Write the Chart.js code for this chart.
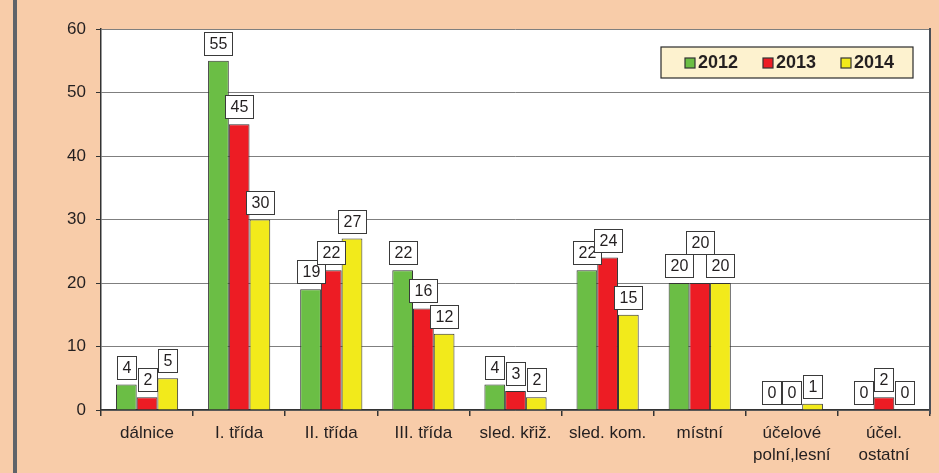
<!DOCTYPE html>
<html>
<head>
<meta charset="utf-8">
<script src="https://cdn.jsdelivr.net/npm/chart.js@4"></script>
<style>
html,body{margin:0;padding:0;background:#F8CCA9;}
#wrap{width:939px;height:473px;position:relative;}
</style>
</head>
<body>
<div id="wrap"><canvas id="c" width="939" height="473"></canvas></div>
<script>
const categories = ["dálnice", "I. třída", "II. třída", "III. třída", "sled. křiž.", "sled. kom.", "místní", ["účelové", "polní,lesní"], ["účel.", "ostatní"]];
const values2012 = [4, 55, 19, 22, 4, 22, 20, 0, 0];
const values2013 = [2, 45, 22, 16, 3, 24, 20, 0, 2];
const values2014 = [5, 30, 27, 12, 2, 15, 20, 1, 0];
const seriesLabels = ["2012", "2013", "2014"];
const yTicks = [0, 10, 20, 30, 40, 50, 60];

const colors = ["#6BBE45", "#ED1C24", "#F2EA1B"];
const FONT = "Liberation Sans, Arial, sans-serif";

const bgPlugin = {
  id: 'bg',
  beforeDraw(chart) {
    const ctx = chart.ctx, a = chart.chartArea;
    ctx.save();
    ctx.fillStyle = "#F8CCA9";
    ctx.fillRect(0, 0, chart.width, chart.height);
    ctx.fillStyle = "#5F6369";
    ctx.fillRect(13, 0, 4, chart.height);
    ctx.fillStyle = "#FFFFFF";
    ctx.fillRect(a.left, a.top, a.right - a.left, a.bottom - a.top);
    ctx.restore();
  },
  afterDraw(chart) {
    const ctx = chart.ctx, a = chart.chartArea;
    ctx.save();
    ctx.strokeStyle = "#4A4F57";
    ctx.lineWidth = 2;
    ctx.beginPath();
    ctx.moveTo(a.right, a.top - 1);
    ctx.lineTo(a.right, a.bottom + 4);
    ctx.stroke();
    // legend
    const lx = 661, ly = 47, lw = 252, lh = 31;
    ctx.fillStyle = "#FDF2CF";
    ctx.fillRect(lx, ly, lw, lh);
    ctx.strokeStyle = "#2a2a2a";
    ctx.lineWidth = 1.2;
    ctx.strokeRect(lx, ly, lw, lh);
    const sqX = [685, 763, 841];
    chart.data.datasets.forEach((ds, i) => {
      ctx.fillStyle = ds.backgroundColor;
      ctx.fillRect(sqX[i], 58, 10, 10);
      ctx.strokeStyle = "#333";
      ctx.lineWidth = 1.2;
      ctx.strokeRect(sqX[i], 58, 10, 10);
      ctx.fillStyle = "#231F20";
      ctx.font = "bold 18px " + FONT;
      ctx.textAlign = "left";
      ctx.textBaseline = "middle";
      ctx.fillText(ds.label, sqX[i] + 13, 63.5);
    });
    ctx.restore();
  },
  afterDatasetsDraw(chart) {
    const ctx = chart.ctx;
    ctx.save();
    ctx.font = "16px " + FONT;
    ctx.textAlign = "center";
    ctx.textBaseline = "middle";
    const placed = {};
    chart.data.datasets.forEach((ds, di) => {
      const meta = chart.getDatasetMeta(di);
      meta.data.forEach((bar, i) => {
        const txt = String(ds.data[i]);
        const w = Math.round(ctx.measureText(txt).width + 10);
        const h = 23;
        const x = Math.round(bar.x - w / 2);
        let y = Math.round(bar.y - 6 - h);
        placed[i] = placed[i] || [];
        placed[i].forEach(p => {
          const hx = Math.min(x + w, p.x + p.w) - Math.max(x, p.x);
          const vy = Math.min(y + h, p.y + p.h) - Math.max(y, p.y);
          if (hx > 0 && vy > h / 2) y = p.y - h;
        });
        placed[i].push({ x, y, w, h });
        ctx.fillStyle = "#FFFFFF";
        ctx.fillRect(x, y, w, h);
        ctx.strokeStyle = "#3a3a3a";
        ctx.lineWidth = 1;
        ctx.strokeRect(x + 0.5, y + 0.5, w, h);
        ctx.fillStyle = "#231F20";
        ctx.fillText(txt, x + w / 2 + 0.5, y + h / 2 + 1.5);
      });
    });
    ctx.restore();
  }
};

new Chart(document.getElementById('c'), {
  type: 'bar',
  data: {
    labels: categories,
    datasets: [values2012, values2013, values2014].map((d, i) => ({
      label: seriesLabels[i],
      data: d,
      backgroundColor: colors[i],
      borderColor: "#333333",
      borderWidth: 1,
      barPercentage: 1,
      categoryPercentage: 0.675
    }))
  },
  options: {
    responsive: false,
    animation: false,
    devicePixelRatio: 1,
    layout: { padding: { left: 0, right: 9, top: 29, bottom: 0 } },
    plugins: { legend: { display: false }, tooltip: { enabled: false } },
    scales: {
      x: {
        afterFit(s) { s.height = 63; },
        grid: { offset: true, drawOnChartArea: false, drawTicks: true, tickLength: 6, color: "#333", lineWidth: 1.5 },
        border: { display: true, color: "#333", width: 1.5 },
        ticks: { color: "#231F20", font: { family: FONT, size: 17, lineHeight: 1.25 }, padding: 7, maxRotation: 0, autoSkip: false }
      },
      y: {
        min: 0, max: 60,
        afterFit(s) { s.width = 101; },
        afterBuildTicks(s) { s.ticks = yTicks.map(v => ({ value: v })); },
        grid: { color: "#7F7F7F", lineWidth: 1, tickLength: 5, tickColor: "#333" },
        border: { display: true, color: "#333", width: 1.5 },
        ticks: { color: "#231F20", font: { family: FONT, size: 17 }, padding: 10 }
      }
    }
  },
  plugins: [bgPlugin]
});
</script>
</body>
</html>
